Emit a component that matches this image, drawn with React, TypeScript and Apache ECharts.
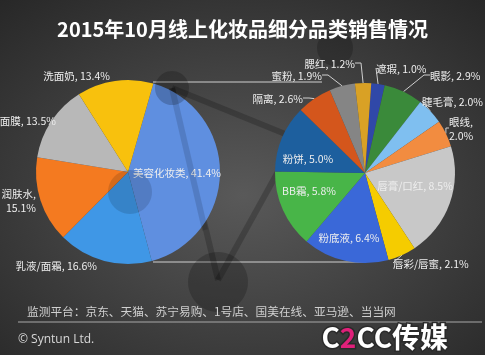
import React, { useEffect, useRef } from "react";
import * as echarts from "echarts";

const titleText = "2015年10月线上化妆品细分品类销售情况";
const leftNames = ["美容化妆类", "乳液/面霜", "润肤水", "面膜", "洗面奶"];
const leftValues = [41.4, 16.6, 15.1, 13.5, 13.4];
const leftColors = ["#5f8fe0", "#3f97e6", "#f47a20", "#b8b8b8", "#f8c10d"];
const rightNames = ["遮瑕", "眼影", "睫毛膏", "眼线", "唇膏/口红", "唇彩/唇蜜", "粉底液", "BB霜", "粉饼", "隔离", "蜜粉", "腮红"];
const rightValues = [1.0, 2.9, 2.0, 2.0, 8.5, 2.1, 6.4, 5.8, 5.0, 2.6, 1.9, 1.2];
const rightColors = ["#3048a8", "#3a8a3a", "#7fbff0", "#f28c40", "#c8c8c8", "#f5cc00", "#3a68d8", "#48b548", "#1d5f9e", "#d4561c", "#858585", "#d9a125"];
const leftInside = ["美容化妆类"];
const rightInside = ["唇膏/口红", "粉底液", "BB霜", "粉饼"];
const wrapNames = ["润肤水", "眼线"];
const footerText = "监测平台：京东、天猫、苏宁易购、1号店、国美在线、亚马逊、当当网";
const copyrightText = "© Syntun Ltd.";

// label placement (text anchor x, y, alignment) — layout only
const labelPlace: Record<string, [number, number, string]> = {
  "洗面奶": [110, 75, "right"],
  "面膜": [56, 120, "right"],
  "润肤水": [36, 200, "right"],
  "乳液/面霜": [97, 265, "right"],
  "腮红": [355, 63, "right"],
  "蜜粉": [322, 75, "right"],
  "隔离": [303, 98, "right"],
  "遮瑕": [376, 68, "left"],
  "眼影": [430, 75, "left"],
  "睫毛膏": [422, 101, "left"],
  "眼线": [449, 128, "left"],
  "唇彩/唇蜜": [393, 263, "left"],
  "粉饼": [308, 158, "center"],
  "BB霜": [309, 190, "center"],
  "粉底液": [349, 237, "center"],
  "唇膏/口红": [415, 185, "center"],
};

const FONT = "'Noto Sans CJK SC', 'Noto Sans', sans-serif";

function fmt(p: any) {
  const sep = wrapNames.includes(p.name) ? ",\n" : ", ";
  return p.name + sep + Number(p.value).toFixed(1) + "%";
}

export default function App() {
  const ref = useRef<HTMLDivElement>(null);
  useEffect(() => {
    if (!ref.current) return;
    const chart = echarts.init(ref.current, null, { renderer: "svg" });
    const leftData = leftNames.map((n, i) => ({
      name: n,
      value: leftValues[i],
      itemStyle: { color: leftColors[i] },
      label: leftInside.includes(n) ? { position: "inside" } : { position: "outside" },
      labelLine: { show: false },
    }));
    const rightData = rightNames.map((n, i) => ({
      name: n,
      value: rightValues[i],
      itemStyle: { color: rightColors[i] },
      label: rightInside.includes(n) ? { position: "inside" } : { position: "outside" },
      labelLine: { show: !rightInside.includes(n) },
    }));
    const layoutFor = (names: string[]) => (params: any) => {
      const name = names[params.dataIndex];
      const p = labelPlace[name];
      if (!p) return {};
      return { x: p[0], y: p[1], align: p[2], verticalAlign: "middle" };
    };
    const net = "rgba(0,0,0,0.2)";
    chart.setOption({
      animation: false,
      backgroundColor: {
        type: "radial",
        x: 0.5,
        y: 0.55,
        r: 0.75,
        colorStops: [
          { offset: 0, color: "#595959" },
          { offset: 1, color: "#272727" },
        ],
      },
      title: {
        text: titleText,
        left: "center",
        top: 13,
        textStyle: { color: "#ffffff", fontSize: 20, fontWeight: "bold", fontFamily: FONT },
      },
      graphic: [
        { type: "line", z: 0, shape: { x1: 153, y1: 82, x2: 322, y2: 82 }, style: { stroke: "#cfcfcf", lineWidth: 1.2 } },
        { type: "line", z: 0, shape: { x1: 153, y1: 262, x2: 365, y2: 262 }, style: { stroke: "#cfcfcf", lineWidth: 1.2 } },
        { type: "line", z: 0, shape: { x1: 172, y1: 88, x2: 218, y2: 280 }, style: { stroke: net, lineWidth: 6 } },
        { type: "line", z: 0, shape: { x1: 172, y1: 88, x2: 300, y2: 140 }, style: { stroke: net, lineWidth: 6 } },
        { type: "line", z: 0, shape: { x1: 218, y1: 280, x2: 290, y2: 150 }, style: { stroke: net, lineWidth: 6 } },
        { type: "circle", z: 0, shape: { cx: 218, cy: 282, r: 30 }, style: { fill: "rgba(0,0,0,0.2)" } },
        { type: "circle", z: 0, shape: { cx: 335, cy: 48, r: 18 }, style: { fill: "rgba(0,0,0,0.2)" } },
        { type: "circle", z: 10, shape: { cx: 172, cy: 88, r: 17 }, style: { fill: "rgba(0,0,0,0.2)" } },
        { type: "circle", z: 10, shape: { cx: 130, cy: 192, r: 22 }, style: { fill: "rgba(0,0,0,0.13)" } },
        { type: "line", z: 10, shape: { x1: 172, y1: 88, x2: 205, y2: 230 }, style: { stroke: "rgba(0,0,0,0.13)", lineWidth: 6 } },
        {
          type: "text",
          left: 27,
          top: 305,
          style: { text: footerText, fill: "#d0d0d0", fontSize: 11.7, fontFamily: FONT },
        },
        { type: "line", shape: { x1: 18, y1: 322, x2: 482, y2: 322 }, style: { stroke: "#a8a8a8", lineWidth: 1 } },
        {
          type: "text",
          left: 18,
          top: 332,
          style: { text: copyrightText, fill: "#d8d8d8", fontSize: 12, fontFamily: "'Open Sans', sans-serif" },
        },
        {
          type: "text",
          left: 320,
          top: 320,
          z: 20,
          style: {
            text: "{a|C}{b|2}{a|CC传媒}",
            rich: {
              a: { fill: "#ffffff", stroke: "#2a2a2a", lineWidth: 3, fontSize: 28, fontWeight: "bold", fontFamily: FONT },
              b: { fill: "#e0207a", stroke: "#2a2a2a", lineWidth: 3, fontSize: 28, fontWeight: "bold", fontFamily: FONT },
            },
          },
        },
      ],
      series: [
        {
          type: "pie",
          z: 2,
          center: [128, 172],
          radius: 92,
          startAngle: 74,
          clockwise: true,
          avoidLabelOverlap: false,
          data: leftData,
          label: {
            formatter: fmt,
            color: "#eeeeee",
            fontSize: 10.5,
            fontFamily: FONT,
            lineHeight: 14,
            overflow: "none",
          },
          labelLine: { show: false, length: 4, length2: 0 },
          labelLayout: layoutFor(leftNames),
          itemStyle: { borderWidth: 0 },
          emphasis: { disabled: true },
        },
        {
          type: "pie",
          z: 2,
          center: [365, 173],
          radius: 90,
          startAngle: 86,
          clockwise: true,
          avoidLabelOverlap: false,
          data: rightData,
          label: {
            formatter: fmt,
            color: "#eeeeee",
            fontSize: 10.5,
            fontFamily: FONT,
            lineHeight: 14,
            overflow: "none",
          },
          labelLine: { length: 10, length2: 6, lineStyle: { color: "#cfcfcf", width: 1 } },
          labelLayout: layoutFor(rightNames),
          itemStyle: { borderWidth: 0 },
          emphasis: { disabled: true },
        },
      ],
    });
    return () => chart.dispose();
  }, []);
  return <div ref={ref} style={{ position: "fixed", left: 0, top: 0, width: 485, height: 355 }} />;
}
